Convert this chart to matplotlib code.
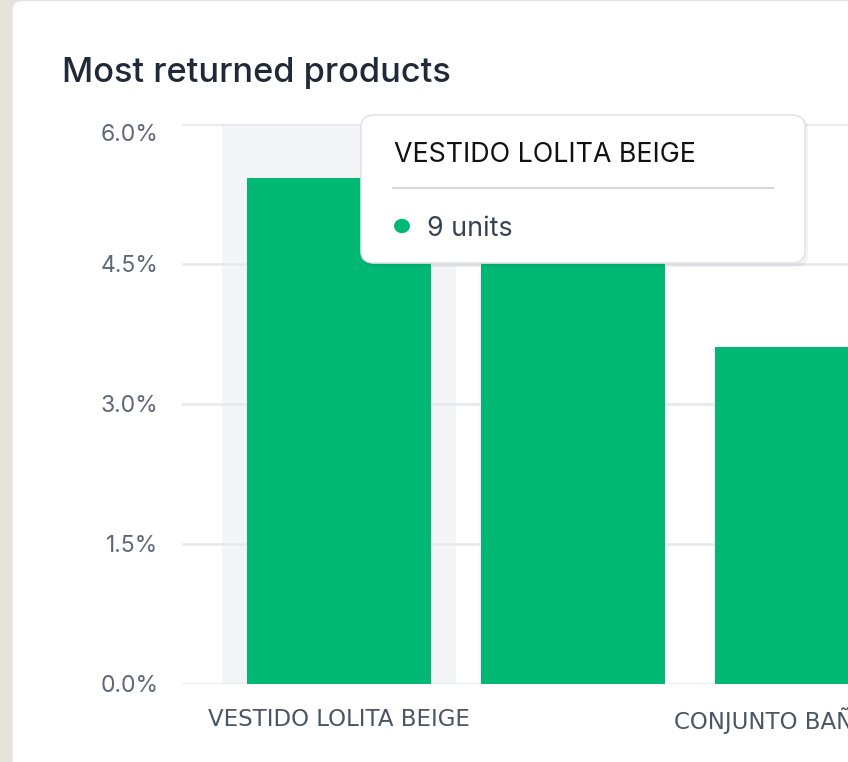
import matplotlib.pyplot as plt
from matplotlib.patches import FancyBboxPatch, Circle
from matplotlib.ticker import FuncFormatter

# --- Data ---
products = ["VESTIDO LOLITA BEIGE", "", "CONJUNTO BAÑO AZUL"]
return_rate = [5.42, 4.82, 3.61]   # % of units returned
hover_units = 9                    # tooltip value for the hovered bar

GREEN = "#00B874"
plt.rcParams['font.family'] = ['Inter', 'DejaVu Sans']

fig = plt.figure(figsize=(8.48, 7.62), dpi=100)
fig.patch.set_facecolor("#E7E3DA")

# white card with rounded corners
card = FancyBboxPatch((12 / 848, -0.05), 1.2, 1.05 - 0.5 / 762,
                      boxstyle="round,pad=0,rounding_size=0.012",
                      transform=fig.transFigure, facecolor="white",
                      edgecolor="#E3E3E6", linewidth=1, zorder=-1)
fig.patches.append(card)

fig.text(62 / 848, 1 - 73 / 762, "Most returned products", fontsize=24.7,
         color="#1F2937", va="center", ha="left", fontweight="medium")

ax = fig.add_axes([182 / 848, 78 / 762, 1 - 182 / 848, 560 / 762])
ax.set_zorder(1)
ax.set_facecolor("none")

x = list(range(len(products)))
ax.bar(x, return_rate, width=0.79, color=GREEN, zorder=3)

# hover highlight band on the first category
ax.axvspan(-0.5, 0.5, color="#F4F5F8", zorder=1, lw=0)

ax.set_xlim(-0.5 - 40 / 234, (848 - 339) / 234)
ax.set_ylim(0, 6)
ax.set_yticks([0, 1.5, 3.0, 4.5, 6.0])
ax.yaxis.set_major_formatter(FuncFormatter(lambda v, _: f"{v:.1f}%"))
ax.grid(axis="y", color="#E7E8EC", linewidth=1.8, zorder=2)
ax.set_axisbelow(False)
for s in ax.spines.values():
    s.set_visible(False)
ax.tick_params(axis="y", length=0, pad=17, labelsize=16.5, labelcolor="#5F6675")
ax.tick_params(axis="x", length=0, pad=17, labelsize=16.5, labelcolor="#4B5563")
ax.set_xticks(x)
ax.set_xticklabels(products, family=["DejaVu Sans"])
ax.get_yticklabels()[-1].set_va("top")

# tooltip
tip = FancyBboxPatch((361 / 848, 1 - 263 / 762), 444 / 848, 148 / 762,
                     boxstyle="round,pad=0,rounding_size=0.016",
                     transform=fig.transFigure, facecolor="white",
                     edgecolor="#E2E4E8", linewidth=1.2, zorder=10)
shadow = FancyBboxPatch((362 / 848, 1 - 267 / 762), 446 / 848, 150 / 762,
                        boxstyle="round,pad=0,rounding_size=0.016",
                        transform=fig.transFigure, facecolor="#000000",
                        alpha=0.05, edgecolor="none", zorder=9)
fig.patches.extend([shadow, tip])
fig.text(394 / 848, 1 - 155 / 762, products[0], fontsize=19.3,
         color="#111111", va="center", ha="left", zorder=11)
fig.add_artist(plt.Line2D([393 / 848, 773 / 848], [1 - 188 / 762] * 2,
                          color="#D3D6DD", linewidth=1.5, zorder=11))
fig.add_artist(Circle((402 / 848, 1 - 226 / 762), 0.0085,
                      transform=fig.transFigure, color=GREEN, zorder=11))
fig.text(427 / 848, 1 - 229 / 762, f"{hover_units} units", fontsize=19.3,
         color="#374151", va="center", ha="left", zorder=11)

plt.savefig("out.png", dpi=100)
